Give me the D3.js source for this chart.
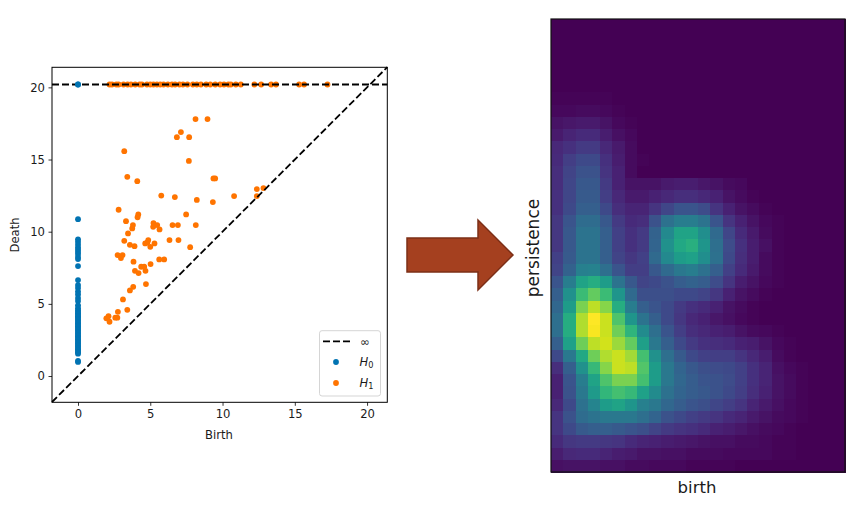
<!DOCTYPE html>
<html>
<head>
<meta charset="utf-8">
<script src="https://cdn.jsdelivr.net/npm/d3@7"></script>
<style>
  html, body { margin: 0; padding: 0; background: #fff; }
  text { font-family: "DejaVu Sans", sans-serif; fill: #1a1a1a; }
  .axis text { font-size: 11.6px; }
  .axis line { stroke: #000; stroke-width: 0.8; }
</style>
</head>
<body>
<svg id="chart" width="858" height="510"></svg>
<script>
(function () {
  'use strict';

  var tickValues = [0, 5, 10, 15, 20];
  var infDeath = 20.2;

  var h0Deaths = [20.2, 20.2, 10.87, 9.47, 9.3, 9.1, 8.9, 8.75, 8.6, 8.45, 8.25, 8.1, 7.62,
    6.65, 6.3, 6.1, 5.85, 5.65, 5.4, 5.2, 4.9, 4.7, 4.55, 4.45, 4.35, 4.25, 4.15, 4.05,
    3.95, 3.85, 3.75, 3.65, 3.55, 3.45, 3.35, 3.25, 3.15, 3.05, 2.95, 2.85, 2.75, 2.65,
    2.55, 2.45, 2.35, 2.25, 2.15, 2.05, 1.95, 1.85, 1.75, 1.65, 1.55, 1.05, 0.98];

  var h1InfBirths = [2.18, 2.35, 2.65, 2.81, 3.15, 3.43, 3.66, 3.96, 4.26, 4.42, 4.77, 5.0,
    5.22, 5.46, 5.69, 5.92, 6.22, 6.5, 6.72, 7.02, 7.26, 7.57, 7.95, 8.22, 8.5, 8.87, 9.15,
    9.5, 9.83, 10.1, 10.4, 10.57, 10.92, 11.26, 12.2, 12.67, 13.36, 13.7, 15.3, 15.64, 17.26];

  var h1Births = [8.13, 7.12, 6.84, 7.69, 3.2, 7.67, 3.41, 4.1, 5.76, 6.7, 8.22, 2.81, 7.48,
    4.17, 4.12, 3.32, 5.22, 3.8, 5.48, 6.54, 6.91, 8.15, 3.75, 5.2, 5.64, 3.46, 3.2, 3.59,
    3.91, 6.33, 6.95, 4.86, 4.65, 5.0, 5.29, 7.76, 4.8, 2.74, 3.08, 2.97, 3.84, 5.62, 5.96,
    5.02, 4.67, 3.94, 4.19, 4.37, 4.58, 4.7, 3.82, 3.59, 3.11, 2.76, 3.41, 2.11, 1.96, 2.58,
    2.72, 2.18, 8.96, 9.37, 9.49, 12.37, 12.83, 12.37, 10.8, 9.33];
  var h1Deaths = [17.8, 16.9, 16.55, 16.55, 15.58, 14.9, 13.8, 13.5, 12.5, 12.4, 12.2, 11.52, 11.2,
    11.2, 11.0, 10.73, 10.6, 10.46, 10.46, 10.46, 10.46, 10.46, 10.23, 10.34, 10.16, 9.88, 9.37, 9.09,
    9.0, 9.42, 9.42, 9.42, 9.19, 8.95, 9.19, 8.93, 9.25, 8.38, 8.38, 8.17, 7.92, 8.08, 8.08,
    7.76, 7.29, 7.29, 7.13, 7.57, 7.57, 6.37, 6.18, 5.93, 5.31, 4.45, 4.59, 4.15, 4.0, 4.04,
    4.04, 3.76, 17.8, 13.69, 13.69, 12.95, 13.02, 12.47, 12.47, 12.05];

  // persistence image, top row first, cells left out at the end of a row are 0
  var imageRows = [
    [], [], [], [], [], [],
    [1, 1, 1, 1, 1],
    [2, 2, 3, 3, 2, 1],
    [5, 6, 7, 7, 5, 2, 1],
    [7, 10, 12, 12, 8, 4, 2],
    [11, 14, 17, 17, 11, 7, 3],
    [12, 18, 22, 22, 14, 8, 3, 1],
    [13, 20, 25, 25, 15, 9, 3],
    [13, 21, 27, 27, 17, 9, 5, 5, 5, 7, 8, 8, 6, 5, 3, 2],
    [14, 21, 28, 28, 18, 11, 7, 7, 9, 11, 13, 13, 11, 9, 5, 3, 1],
    [14, 22, 30, 30, 22, 13, 10, 10, 15, 21, 26, 26, 23, 15, 9, 5, 3, 1],
    [16, 26, 35, 35, 27, 17, 12, 13, 25, 37, 42, 42, 38, 26, 15, 9, 5, 2, 1],
    [16, 27, 38, 38, 30, 19, 14, 17, 31, 47, 58, 58, 49, 34, 21, 12, 7, 3, 1],
    [16, 27, 38, 38, 30, 19, 14, 17, 32, 50, 60, 63, 52, 36, 23, 14, 8, 4, 1],
    [19, 28, 38, 38, 30, 20, 16, 19, 34, 47, 55, 57, 49, 37, 22, 13, 8, 3, 1],
    [20, 31, 43, 44, 36, 26, 18, 18, 27, 34, 40, 42, 37, 30, 19, 12, 7, 3, 1],
    [26, 42, 58, 62, 55, 38, 27, 20, 22, 25, 29, 31, 29, 23, 15, 8, 5, 2, 1],
    [30, 50, 68, 76, 68, 52, 34, 24, 24, 24, 22, 22, 20, 16, 9, 5, 3, 1],
    [33, 55, 80, 90, 82, 62, 42, 30, 26, 22, 17, 14, 12, 9, 5, 3, 1],
    [36, 62, 88, 100, 92, 72, 52, 38, 30, 22, 16, 11, 9, 6, 4, 2, 1],
    [36, 62, 88, 99, 92, 78, 65, 48, 36, 26, 18, 13, 11, 9, 8, 5, 3, 2, 1],
    [30, 57, 78, 90, 93, 85, 76, 56, 40, 30, 22, 17, 14, 13, 12, 9, 8, 5, 2, 1],
    [22, 40, 60, 78, 88, 92, 86, 70, 50, 36, 28, 22, 19, 18, 18, 15, 11, 8, 3, 1],
    [13, 30, 50, 67, 82, 92, 90, 73, 55, 40, 32, 27, 24, 23, 22, 19, 14, 10, 4, 2, 1],
    [9, 26, 42, 58, 72, 80, 80, 70, 55, 40, 33, 29, 26, 25, 23, 19, 14, 10, 5, 3, 1],
    [9, 25, 40, 54, 66, 70, 67, 57, 48, 37, 32, 29, 27, 25, 22, 18, 13, 9, 5, 3, 1],
    [11, 22, 37, 45, 55, 58, 52, 43, 40, 33, 29, 26, 24, 21, 18, 15, 10, 7, 4, 2, 1],
    [15, 25, 35, 38, 40, 40, 40, 36, 32, 25, 22, 19, 17, 15, 12, 10, 7, 5, 3, 2, 1],
    [15, 22, 28, 30, 30, 28, 26, 24, 20, 17, 15, 14, 12, 9, 8, 6, 4, 3, 2, 1],
    [12, 16, 17, 17, 16, 15, 12, 10, 9, 8, 7, 6, 5, 4, 4, 3, 3, 2, 1, 1],
    [8, 11, 12, 12, 10, 8, 7, 5, 5, 4, 4, 3, 3, 3, 2, 2, 2, 2, 1, 1],
    [4, 5, 5, 5, 4, 4, 3, 3, 2, 2, 2, 1, 1, 1, 1]
  ];
  var imageCols = 24;

  var svg = d3.select('#chart');

  var x = d3.scaleLinear().domain([-1.8, 21.4]).range([52, 387.3]);
  var y = d3.scaleLinear().domain([-1.82, 21.39]).range([402.3, 67.3]);

  function drawPoints(parent, births, deaths, color) {
    parent.selectAll('circle')
      .data(d3.range(births.length))
      .enter().append('circle')
      .attr('cx', function (i) { return x(births[i]); })
      .attr('cy', function (i) { return y(deaths[i]); })
      .attr('r', 2.9)
      .attr('fill', color);
  }

  function drawDiagram() {
    drawPoints(svg.append('g'), h1Births, h1Deaths, '#ff7400');
    drawPoints(svg.append('g'), h1InfBirths, h1InfBirths.map(function () { return infDeath; }), '#ff7400');

    svg.append('line')
      .attr('x1', x(-1.8)).attr('x2', x(21.4))
      .attr('y1', y(-1.8)).attr('y2', y(21.4))
      .attr('stroke', '#000').attr('stroke-width', 1.8).attr('stroke-dasharray', '7,3');
    svg.append('line')
      .attr('x1', x(-1.8)).attr('x2', x(21.4))
      .attr('y1', y(infDeath)).attr('y2', y(infDeath))
      .attr('stroke', '#000').attr('stroke-width', 1.8).attr('stroke-dasharray', '7,3');

    drawPoints(svg.append('g'), h0Deaths.map(function () { return 0; }), h0Deaths, '#0173b2');

    svg.append('g')
      .attr('class', 'axis')
      .attr('transform', 'translate(0,402.3)')
      .call(d3.axisBottom(x).tickValues(tickValues).tickSize(3.5).tickPadding(3.5))
      .call(function (g) { g.select('.domain').remove(); });
    svg.append('g')
      .attr('class', 'axis')
      .attr('transform', 'translate(52,0)')
      .call(d3.axisLeft(y).tickValues(tickValues).tickSize(3.5).tickPadding(3.5))
      .call(function (g) { g.select('.domain').remove(); });

    svg.append('rect')
      .attr('x', 52).attr('y', 67.3).attr('width', 335.3).attr('height', 335)
      .attr('fill', 'none').attr('stroke', '#000').attr('stroke-width', 1);

    svg.append('text')
      .attr('x', 219).attr('y', 438.5)
      .attr('text-anchor', 'middle').style('font-size', '11.6px')
      .text('Birth');
    svg.append('text')
      .attr('transform', 'translate(19,235) rotate(-90)')
      .attr('text-anchor', 'middle').style('font-size', '11.6px')
      .text('Death');
  }

  function drawLegend() {
    var legend = svg.append('g');
    legend.append('rect')
      .attr('x', 319.5).attr('y', 330.7).attr('width', 61).attr('height', 65.3).attr('rx', 2.5)
      .attr('fill', '#fff').attr('fill-opacity', 0.85)
      .attr('stroke', '#d5d5d5').attr('stroke-width', 1);
    legend.append('line')
      .attr('x1', 323).attr('x2', 350).attr('y1', 341.3).attr('y2', 341.3)
      .attr('stroke', '#000').attr('stroke-width', 1.8).attr('stroke-dasharray', '7,3');
    legend.append('text')
      .attr('x', 360).attr('y', 346).style('font-size', '11.6px').text('\u221e');

    [['0', '#0173b2', 362], ['1', '#ff7400', 383]].forEach(function (d) {
      legend.append('circle')
        .attr('cx', 336).attr('cy', d[2]).attr('r', 2.9).attr('fill', d[1]);
      var label = legend.append('text')
        .attr('x', 359.5).attr('y', d[2] + 4).style('font-size', '11.6px');
      label.append('tspan').style('font-style', 'italic').text('H');
      label.append('tspan').attr('dy', 2).style('font-size', '8.2px').text(d[0]);
    });
  }

  function drawArrow() {
    var shape = [[407, 238], [478, 238], [478, 220], [513, 255], [478, 290], [478, 272], [407, 272]];
    svg.append('path')
      .attr('d', d3.line()(shape) + 'Z')
      .attr('fill', '#a5401f')
      .attr('stroke', '#7c2f17')
      .attr('stroke-width', 1.5);
  }

  function drawImage() {
    var band = d3.scaleBand().domain(d3.range(imageCols)).range([551, 845]);
    var rowBand = d3.scaleBand().domain(d3.range(imageRows.length)).range([19, 472]);
    var color = d3.scaleSequential(d3.interpolateViridis).domain([0, 100]);

    var cells = [];
    imageRows.forEach(function (row, r) {
      d3.range(imageCols).forEach(function (c) {
        cells.push({ r: r, c: c, v: row[c] || 0 });
      });
    });

    svg.append('g')
      .attr('shape-rendering', 'crispEdges')
      .selectAll('rect')
      .data(cells)
      .enter().append('rect')
      .attr('x', function (d) { return band(d.c); })
      .attr('y', function (d) { return rowBand(d.r); })
      .attr('width', band.bandwidth() + 0.5)
      .attr('height', rowBand.bandwidth() + 0.5)
      .attr('fill', function (d) { return color(d.v); });

    svg.append('rect')
      .attr('x', 551).attr('y', 19).attr('width', 294).attr('height', 453)
      .attr('fill', 'none').attr('stroke', '#111').attr('stroke-width', 1.2);

    svg.append('text')
      .attr('x', 697).attr('y', 493)
      .attr('text-anchor', 'middle').style('font-size', '16.5px')
      .text('birth');
    svg.append('text')
      .attr('transform', 'translate(539,248) rotate(-90)')
      .attr('text-anchor', 'middle').style('font-size', '17px')
      .text('persistence');
  }

  drawDiagram();
  drawLegend();
  drawArrow();
  drawImage();
})();
</script>
</body>
</html>
